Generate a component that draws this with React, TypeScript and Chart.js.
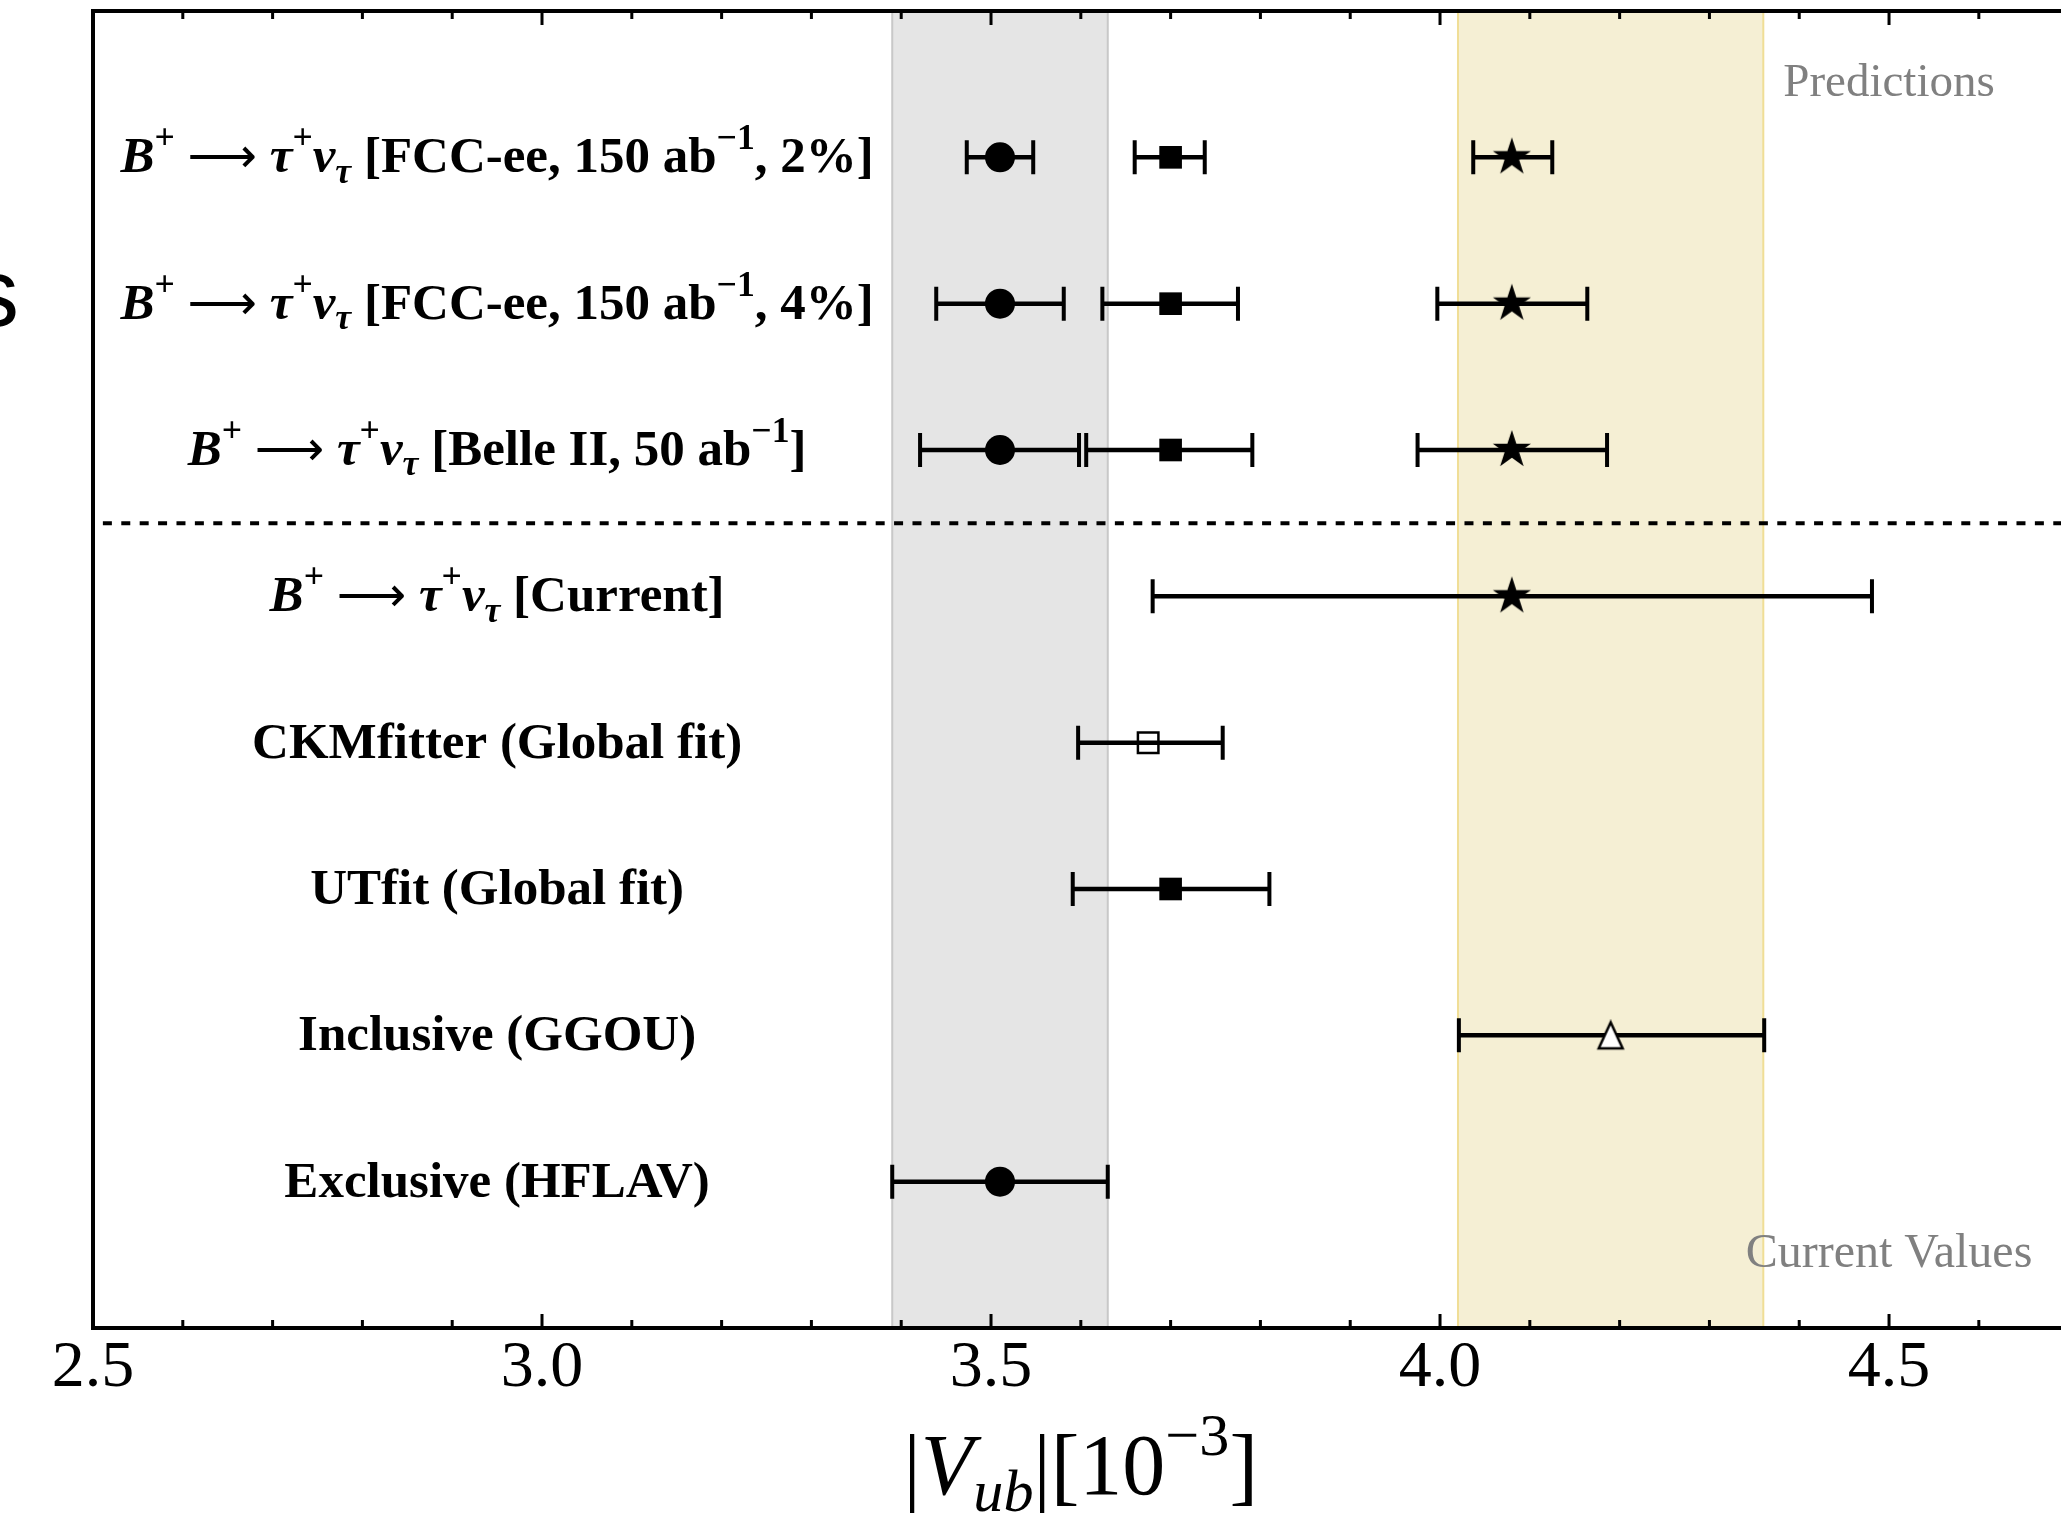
import React, { useEffect, useRef } from 'react';
import { Chart, registerables } from 'chart.js';

Chart.register(...registerables);

// ---------------- data ----------------
const rowLabels = [
  '*B*^{+} → *τ*^{+}*ν*_{*τ*} [FCC-ee, 150 ab^{−1}, 2%]',
  '*B*^{+} → *τ*^{+}*ν*_{*τ*} [FCC-ee, 150 ab^{−1}, 4%]',
  '*B*^{+} → *τ*^{+}*ν*_{*τ*} [Belle II, 50 ab^{−1}]',
  '*B*^{+} → *τ*^{+}*ν*_{*τ*} [Current]',
  'CKMfitter (Global fit)',
  'UTfit (Global fit)',
  'Inclusive (GGOU)',
  'Exclusive (HFLAV)',
];
const rowPositions = [8, 7, 6, 5, 4, 3, 2, 1];
const labelCenterX = 2.95;

const circleX = [3.51, 3.51, 3.51, 3.51];
const circleRows = [8, 7, 6, 1];
const circleLow = [3.473, 3.439, 3.421, 3.39];
const circleHigh = [3.547, 3.581, 3.598, 3.63];

const squareX = [3.70, 3.70, 3.70, 3.70];
const squareRows = [8, 7, 6, 3];
const squareLow = [3.660, 3.624, 3.606, 3.591];
const squareHigh = [3.738, 3.775, 3.791, 3.810];

const starX = [4.08, 4.08, 4.08, 4.08];
const starRows = [8, 7, 6, 5];
const starLow = [4.037, 3.997, 3.975, 3.680];
const starHigh = [4.125, 4.164, 4.186, 4.481];

const openSquareX = [3.675];
const openSquareRows = [4];
const openSquareLow = [3.597];
const openSquareHigh = [3.758];

const triangleX = [4.19];
const triangleRows = [2];
const triangleLow = [4.021];
const triangleHigh = [4.361];

const exclusiveBand = [3.39, 3.63];
const inclusiveBand = [4.02, 4.36];

const separatorY = 5.5;
const separatorStartX = 2.511;

const xMin = 2.5;
const xMax = 4.6915;
const yMin = 0;
const yMax = 9;
const majorTicks = [2.5, 3.0, 3.5, 4.0, 4.5];
const majorTickLabels = ['2.5', '3.0', '3.5', '4.0', '4.5'];
const minorTicks = [2.6, 2.7, 2.8, 2.9, 3.1, 3.2, 3.3, 3.4, 3.6, 3.7, 3.8, 3.9, 4.1, 4.2, 4.3, 4.4, 4.6];

const axisTitle = '|*V*_{*ub*}|[10^{−3}]';
const axisTitleX = 3.6;
const topNote = 'Predictions';
const bottomNote = 'Current Values';
const noteX = 4.5;
const topNoteY = 8.42;
const bottomNoteY = 0.42;
const clippedGlyph = 's';

// ---------------- helpers ----------------
const SERIF = '"Liberation Serif", "Times New Roman", serif';
const ARROW_FONT = '"DejaVu Sans", sans-serif';

type Seg = { text: string; italic: boolean; level: number; arrow: boolean };

function parseRich(s: string): Seg[] {
  const segs: Seg[] = [];
  let italic = false;
  let level = 0;
  let buf = '';
  const push = () => {
    if (buf) {
      segs.push({ text: buf, italic, level, arrow: false });
      buf = '';
    }
  };
  for (let i = 0; i < s.length; i++) {
    const c = s[i];
    if (c === '*') {
      push();
      italic = !italic;
    } else if (c === '→') {
      push();
      segs.push({ text: '⟶', italic: false, level: 0, arrow: true });
    } else if ((c === '^' || c === '_') && s[i + 1] === '{') {
      push();
      level = c === '^' ? 1 : -1;
      i++;
    } else if (c === '}' && level !== 0) {
      push();
      level = 0;
    } else {
      buf += c;
    }
  }
  push();
  return segs;
}

function segFont(seg: Seg, size: number, weight: string) {
  if (seg.arrow) return `normal ${size * 0.95}px ${ARROW_FONT}`;
  const sz = seg.level !== 0 ? size * 0.7 : size;
  return `${seg.italic ? 'italic ' : ''}${weight} ${sz}px ${SERIF}`;
}

function drawRich(
  ctx: CanvasRenderingContext2D,
  text: string,
  cx: number,
  baseline: number,
  size: number,
  weight: string,
  color: string
) {
  const segs = parseRich(text);
  let total = 0;
  const widths: number[] = [];
  for (const s of segs) {
    ctx.font = segFont(s, size, weight);
    const w = ctx.measureText(s.text).width;
    widths.push(w);
    total += w;
  }
  let x = cx - total / 2;
  ctx.fillStyle = color;
  ctx.textAlign = 'left';
  ctx.textBaseline = 'alphabetic';
  segs.forEach((s, i) => {
    ctx.font = segFont(s, size, weight);
    const dy = s.level === 1 ? -0.45 * size : s.level === -1 ? 0.2 * size : 0;
    ctx.fillText(s.text, x, baseline + dy);
    x += widths[i];
  });
}

function makeStar(R: number) {
  const s = Math.ceil(2 * R + 4);
  const c = document.createElement('canvas');
  c.width = s;
  c.height = s;
  const g = c.getContext('2d')!;
  const cx = s / 2;
  const cy = s / 2;
  const r = R * 0.381966;
  g.beginPath();
  for (let i = 0; i < 10; i++) {
    const ang = -Math.PI / 2 + (i * Math.PI) / 5;
    const rr = i % 2 === 0 ? R : r;
    const px = cx + rr * Math.cos(ang);
    const py = cy + rr * Math.sin(ang);
    if (i === 0) g.moveTo(px, py);
    else g.lineTo(px, py);
  }
  g.closePath();
  g.fillStyle = '#000';
  g.fill();
  return c;
}

function makeTriangle(h: number) {
  const s = Math.ceil(2 * h + 6);
  const c = document.createElement('canvas');
  c.width = s;
  c.height = s;
  const g = c.getContext('2d')!;
  const cx = s / 2;
  const cy = s / 2;
  g.beginPath();
  g.moveTo(cx, cy - h);
  g.lineTo(cx - h * 0.92, cy + h);
  g.lineTo(cx + h * 0.92, cy + h);
  g.closePath();
  g.fillStyle = '#fff';
  g.fill();
  g.lineWidth = 2.5;
  g.lineJoin = 'miter';
  g.strokeStyle = '#000';
  g.stroke();
  return c;
}

function points(xs: number[], rows: number[], lo: number[], hi: number[]) {
  return xs.map((v, i) => ({ x: v, y: rows[i], lo: lo[i], hi: hi[i] }));
}

const decorPlugin = {
  id: 'vubDecor',
  beforeDatasetsDraw(chart: any) {
    const { ctx, chartArea: a } = chart;
    const xs = chart.scales.x;
    const ys = chart.scales.y;
    ctx.save();
    // bands
    const bands = [
      { r: exclusiveBand, fill: 'rgb(229,229,229)', edge: 'rgb(200,200,200)' },
      { r: inclusiveBand, fill: 'rgb(245,239,212)', edge: 'rgb(240,222,150)' },
    ];
    for (const b of bands) {
      const x0 = xs.getPixelForValue(b.r[0]);
      const x1 = xs.getPixelForValue(b.r[1]);
      ctx.fillStyle = b.fill;
      ctx.fillRect(x0, a.top, x1 - x0, a.bottom - a.top);
      ctx.strokeStyle = b.edge;
      ctx.lineWidth = 2;
      ctx.beginPath();
      ctx.moveTo(x0, a.top);
      ctx.lineTo(x0, a.bottom);
      ctx.moveTo(x1, a.top);
      ctx.lineTo(x1, a.bottom);
      ctx.stroke();
    }
    // separator
    const sy = ys.getPixelForValue(separatorY);
    ctx.strokeStyle = '#000';
    ctx.lineWidth = 4;
    ctx.setLineDash([9, 9.4]);
    ctx.beginPath();
    ctx.moveTo(xs.getPixelForValue(separatorStartX), sy);
    ctx.lineTo(a.right, sy);
    ctx.stroke();
    ctx.setLineDash([]);
    // error bars
    for (const ds of chart.data.datasets) {
      for (const p of ds.data) {
        const py = ys.getPixelForValue(p.y);
        const xl = xs.getPixelForValue(p.lo);
        const xh = xs.getPixelForValue(p.hi);
        ctx.strokeStyle = '#000';
        ctx.lineWidth = 4.5;
        ctx.beginPath();
        ctx.moveTo(xl, py);
        ctx.lineTo(xh, py);
        ctx.stroke();
        ctx.lineWidth = 4;
        ctx.beginPath();
        ctx.moveTo(xl, py - 17);
        ctx.lineTo(xl, py + 17);
        ctx.moveTo(xh, py - 17);
        ctx.lineTo(xh, py + 17);
        ctx.stroke();
      }
    }
    ctx.restore();
  },
  afterDatasetsDraw(chart: any) {
    const { ctx, chartArea: a } = chart;
    const xs = chart.scales.x;
    const ys = chart.scales.y;
    ctx.save();
    // row labels
    const lcx = xs.getPixelForValue(labelCenterX);
    rowLabels.forEach((lab, i) => {
      const py = ys.getPixelForValue(rowPositions[i]);
      drawRich(ctx, lab, lcx, py + 15, 51, 'bold', '#000');
    });
    // notes
    const nx = xs.getPixelForValue(noteX);
    drawRich(ctx, topNote, nx, ys.getPixelForValue(topNoteY), 47, 'normal', 'rgb(128,128,128)');
    drawRich(ctx, bottomNote, nx, ys.getPixelForValue(bottomNoteY), 48, 'normal', 'rgb(128,128,128)');
    // frame
    ctx.strokeStyle = '#000';
    ctx.lineWidth = 4;
    ctx.lineCap = 'square';
    ctx.beginPath();
    ctx.moveTo(a.right + 10, a.top);
    ctx.lineTo(a.left, a.top);
    ctx.lineTo(a.left, a.bottom);
    ctx.lineTo(a.right + 10, a.bottom);
    ctx.stroke();
    ctx.lineCap = 'butt';
    // ticks
    ctx.lineWidth = 3;
    ctx.beginPath();
    for (const t of majorTicks) {
      const px = xs.getPixelForValue(t);
      ctx.moveTo(px, a.bottom);
      ctx.lineTo(px, a.bottom - 14);
      ctx.moveTo(px, a.top);
      ctx.lineTo(px, a.top + 14);
    }
    for (const t of minorTicks) {
      const px = xs.getPixelForValue(t);
      ctx.moveTo(px, a.bottom);
      ctx.lineTo(px, a.bottom - 8);
      ctx.moveTo(px, a.top);
      ctx.lineTo(px, a.top + 8);
    }
    ctx.stroke();
    // tick labels
    ctx.fillStyle = '#000';
    ctx.font = `normal 66px ${SERIF}`;
    ctx.textAlign = 'center';
    ctx.textBaseline = 'alphabetic';
    majorTicks.forEach((t, i) => {
      ctx.fillText(majorTickLabels[i], xs.getPixelForValue(t), a.bottom + 58);
    });
    // axis title
    drawRich(ctx, axisTitle, xs.getPixelForValue(axisTitleX), a.bottom + 166, 86, 'normal', '#000');
    // clipped glyph at the far left
    ctx.font = `normal 96px "Liberation Sans", Arial, sans-serif`;
    ctx.textAlign = 'right';
    ctx.fillStyle = '#000';
    ctx.fillText(clippedGlyph, 19, ys.getPixelForValue(7) + 22);
    ctx.restore();
  },
};

export default function App() {
  const ref = useRef<HTMLCanvasElement | null>(null);
  useEffect(() => {
    if (!ref.current) return;
    const star = makeStar(20);
    const tri = makeTriangle(13);
    const chart = new Chart(ref.current, {
      type: 'scatter',
      data: {
        datasets: [
          {
            data: points(circleX, circleRows, circleLow, circleHigh) as any,
            pointStyle: 'circle',
            pointRadius: 15,
            backgroundColor: '#000',
            borderColor: '#000',
            borderWidth: 0,
          },
          {
            data: points(squareX, squareRows, squareLow, squareHigh) as any,
            pointStyle: 'rect',
            pointRadius: 16,
            backgroundColor: '#000',
            borderColor: '#000',
            borderWidth: 0,
          },
          {
            data: points(starX, starRows, starLow, starHigh) as any,
            pointStyle: star as any,
            pointRadius: 20,
            backgroundColor: '#000',
            borderColor: '#000',
            borderWidth: 0,
          },
          {
            data: points(openSquareX, openSquareRows, openSquareLow, openSquareHigh) as any,
            pointStyle: 'rect',
            pointRadius: 14.5,
            backgroundColor: 'rgba(0,0,0,0)',
            borderColor: '#000',
            borderWidth: 2.5,
          },
          {
            data: points(triangleX, triangleRows, triangleLow, triangleHigh) as any,
            pointStyle: tri as any,
            pointRadius: 14,
            backgroundColor: '#fff',
            borderColor: '#000',
            borderWidth: 0,
          },
        ],
      },
      options: {
        animation: false,
        responsive: false,
        devicePixelRatio: 1,
        events: [],
        layout: { autoPadding: false, padding: { left: 93, top: 11, right: 0, bottom: 185 } },
        plugins: { legend: { display: false }, tooltip: { enabled: false } },
        scales: {
          x: { type: 'linear', min: xMin, max: xMax, display: false },
          y: { type: 'linear', min: yMin, max: yMax, display: false },
        },
      },
      plugins: [decorPlugin],
    });
    return () => chart.destroy();
  }, []);
  return (
    <div
      style={{
        position: 'absolute',
        left: 0,
        top: 0,
        width: 2061,
        height: 1513,
        overflow: 'hidden',
        background: '#fff',
      }}
    >
      <canvas ref={ref} width={2061} height={1513} style={{ display: 'block' }} />
    </div>
  );
}
